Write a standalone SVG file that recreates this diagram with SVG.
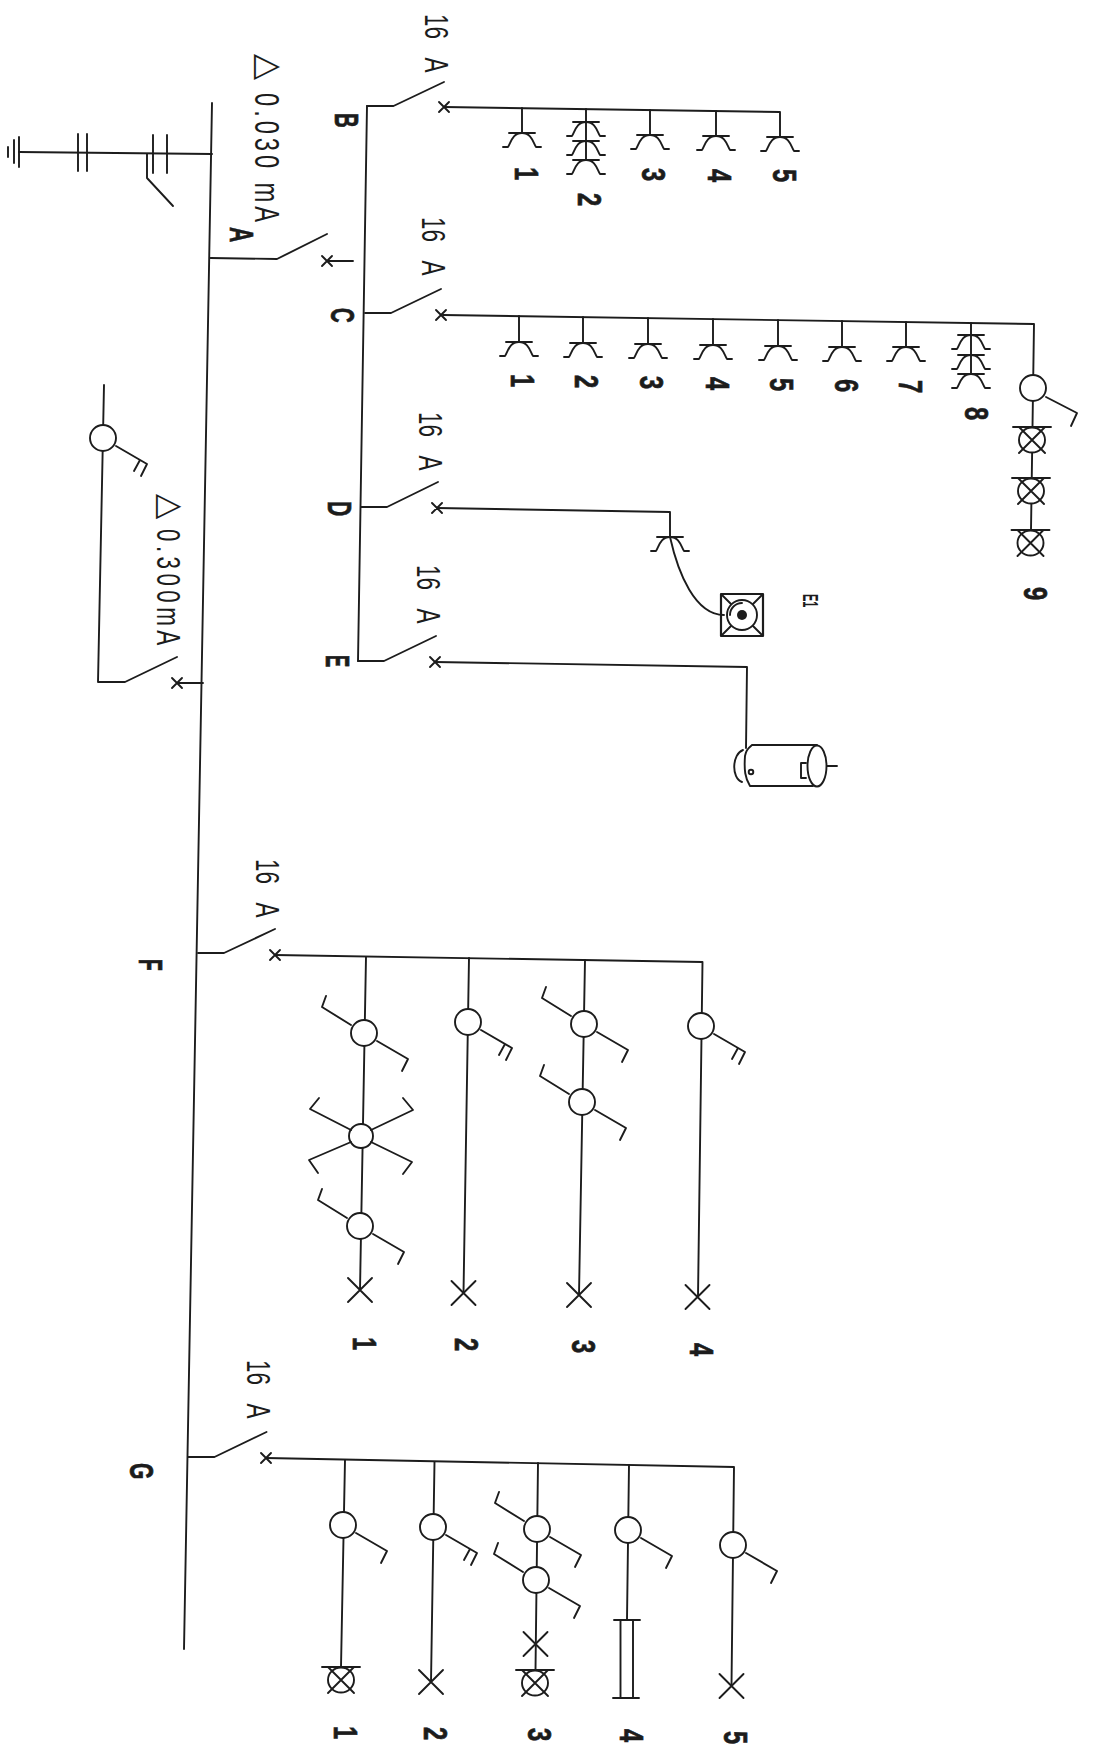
<svg xmlns="http://www.w3.org/2000/svg" xmlns:xlink="http://www.w3.org/1999/xlink" width="1094" height="1746" viewBox="0 0 1094 1746">
<style>
.w{fill:none;stroke:#1c1c1c;stroke-width:1.9;stroke-linecap:round;stroke-linejoin:round}
.c{fill:#fff;stroke:#1c1c1c;stroke-width:1.9}
text{font-family:"Liberation Sans",Arial,sans-serif;fill:#1c1c1c}
.b{font-weight:700;font-size:34px;stroke:#1c1c1c;stroke-width:.7}
.t{font-size:33px}
.a{word-spacing:20px}
</style>
<defs>
<g id="x" class="w"><path d="M-5,-5L5,5M-5,5L5,-5"/></g>
<g id="X" class="w"><path d="M-12,-12L12,12M-12,12L12,-12"/></g>
<g id="sock" class="w"><path d="M-13,0H13M-19,14H-14C-11,10 -10,0 0,0C10,0 11,10 14,14H19"/></g>
<g id="lamp"><ellipse class="c" cx="0" cy="0" rx="13" ry="12.5"/><path class="w" d="M-19,-13H19M-13,13L13,-13M-13,-13L13,13"/></g>
<g id="o"><circle class="c" cx="0" cy="0" r="13"/></g>
<path id="armR" class="w" d="M13,8L44,26L38,38"/>
<path id="armL" class="w" d="M-13,-8L-42,-26L-38,-37"/>
<path id="armE" class="w" d="M13,8L44,26L38,38M37,22L31,33"/>
</defs>
<rect width="1094" height="1746" fill="#fff"/>
<g id="connectors" class="w">
<path d="M212,103L184,1649"/>
<path d="M212,154L19,152"/>
<path d="M210.500,258L277,259L327,234"/>
<path d="M327,261H353"/>
<path d="M367,106L358,661"/>
<path d="M367,106H393.500L444,82"/>
<path d="M444,107L780,112V137"/>
<path d="M522,108V133M586,109V160M650,110V135M716,111V136"/>
<path d="M365,313H391L441,289"/>
<path d="M443,315L1034,324L1031,530"/>
<path d="M519,316V342M583,317V343M648,318V344M713,319V345M778,320V346M842,321V347M906,322V347M971,323V374"/>
<path d="M361,507H387L438,482"/>
<path d="M437,508L670,512V537"/>
<path d="M670,537C678,573 695,615 724,615"/>
<path d="M358,661L384,661L436,636"/>
<path d="M435,662L747,667L746,748"/>
<path d="M203,683H177"/>
<path d="M177,657L125,682H98L104,385"/>
<path d="M198,953H224L275,929"/>
<path d="M275,955L702.500,962L698,1297"/>
<path d="M366,957L360,1290M469,958L463.500,1293M585,960L579,1295"/>
<path d="M188.500,1457H214.500L266.500,1432"/>
<path d="M266,1458L734,1467L731.500,1686"/>
<path d="M345,1460L341,1667M434.500,1462L431,1682M538,1463L535.500,1670M629,1465L627,1620"/>
</g>
<g id="earth" class="w"><path d="M19,137V167M14,140V163M8,147V157M78,134V171M87,134V171M153,135V173M167,135V173M147,154V178L173,206"/></g>
<g id="switch-A"><use xlink:href="#x" x="327" y="261"/><text class="b" transform="translate(230,227) rotate(90) scale(.62,1)">A</text></g>
<g id="rcd-030"><text style="font-family:'DejaVu Sans',sans-serif;font-size:34px" transform="translate(258,54) rotate(90)">△</text><text class="t" style="font-size:35px" textLength="190" transform="translate(255,93) rotate(90) scale(.68,1)">0.030 mA</text></g>
<g id="switch-B"><use xlink:href="#x" x="444" y="107"/><text class="t a" transform="translate(425,14) rotate(90) scale(.68,1)">16 A</text><text class="b" transform="translate(335,113) rotate(90) scale(.6,1)">B</text></g>
<g id="sockets-B">
<use xlink:href="#sock" x="522" y="133"/><use xlink:href="#sock" x="586" y="122"/><use xlink:href="#sock" x="586" y="141"/><use xlink:href="#sock" x="586" y="160"/><use xlink:href="#sock" x="650" y="135"/><use xlink:href="#sock" x="716" y="136"/><use xlink:href="#sock" x="780" y="137"/>
<text class="b" transform="translate(515,167) rotate(90) scale(.7,1)">1</text><text class="b" transform="translate(578,193) rotate(90) scale(.7,1)">2</text><text class="b" transform="translate(642,168) rotate(90) scale(.7,1)">3</text><text class="b" transform="translate(708,169) rotate(90) scale(.7,1)">4</text><text class="b" transform="translate(773,169) rotate(90) scale(.7,1)">5</text>
</g>
<g id="switch-C"><use xlink:href="#x" x="441" y="315"/><text class="t a" transform="translate(422,217) rotate(90) scale(.68,1)">16 A</text><text class="b" transform="translate(331,308) rotate(90) scale(.6,1)">C</text></g>
<g id="sockets-C">
<use xlink:href="#sock" x="519" y="342"/><use xlink:href="#sock" x="583" y="343"/><use xlink:href="#sock" x="648" y="344"/><use xlink:href="#sock" x="713" y="345"/><use xlink:href="#sock" x="778" y="346"/><use xlink:href="#sock" x="842" y="347"/><use xlink:href="#sock" x="906" y="347"/><use xlink:href="#sock" x="971" y="335"/><use xlink:href="#sock" x="971" y="355"/><use xlink:href="#sock" x="971" y="374"/>
<text class="b" transform="translate(511,374) rotate(90) scale(.7,1)">1</text><text class="b" transform="translate(575,375) rotate(90) scale(.7,1)">2</text><text class="b" transform="translate(640,376) rotate(90) scale(.7,1)">3</text><text class="b" transform="translate(706,377) rotate(90) scale(.7,1)">4</text><text class="b" transform="translate(770,378) rotate(90) scale(.7,1)">5</text><text class="b" transform="translate(835,379) rotate(90) scale(.7,1)">6</text><text class="b" transform="translate(899,380) rotate(90) scale(.7,1)">7</text><text class="b" transform="translate(965,407) rotate(90) scale(.7,1)">8</text>
</g>
<g id="lights-C9">
<use xlink:href="#o" x="1033" y="388"/><path class="w" d="M1046,397L1077,413L1071,426"/>
<use xlink:href="#lamp" x="1032" y="440"/><use xlink:href="#lamp" x="1031" y="491"/><use xlink:href="#lamp" x="1030.500" y="543"/>
<text class="b" transform="translate(1024,587) rotate(90) scale(.7,1)">9</text>
</g>
<g id="switch-D"><use xlink:href="#x" x="437" y="508"/><text class="t a" transform="translate(419,412) rotate(90) scale(.68,1)">16 A</text><text class="b" transform="translate(328,501) rotate(90) scale(.62,1)">D</text></g>
<g id="cooker">
<use xlink:href="#sock" x="670" y="537"/>
<rect class="w" x="721" y="594" width="42" height="42" style="stroke-width:2.200"/>
<path class="w" d="M722,595L731,604M762,595L753,604M722,635L731,626M762,635L753,626"/>
<circle class="w" cx="742" cy="615" r="15"/><path class="w" d="M730,615A12,12 0 0 1 742,603"/><circle cx="742" cy="615" r="5" fill="#1c1c1c"/>
<text style="font-size:22px;font-weight:700" transform="translate(803,594) rotate(90) scale(.5,1)">E1</text>
</g>
<g id="switch-E"><use xlink:href="#x" x="435" y="662"/><text class="t a" transform="translate(417,565) rotate(90) scale(.68,1)">16 A</text><text class="b" transform="translate(326,655) rotate(90) scale(.54,1)">E</text></g>
<g id="boiler">
<path class="w" d="M752,745H817M750,786H813M752,745C746,750 746,752 745,756C744,770 745,778 750,786"/>
<ellipse class="w" cx="817" cy="766" rx="9.500" ry="20.500"/>
<path class="w" d="M743,750C732,754 731,778 742,782M827,766H837M806,763H801V778H806"/>
<circle class="w" cx="751" cy="772" r="2.300"/>
</g>
<g id="rcd-300"><use xlink:href="#x" x="177" y="683"/><text style="font-family:'DejaVu Sans',sans-serif;font-size:33px" transform="translate(160,494) rotate(90)">△</text><text class="t" style="font-size:33px" textLength="171" transform="translate(157,529) rotate(90) scale(.68,1)">0.300mA</text><use xlink:href="#o" x="103" y="438"/><use xlink:href="#armE" x="103" y="438"/></g>
<g id="switch-F"><use xlink:href="#x" x="275" y="955"/><text class="t a" transform="translate(256,859) rotate(90) scale(.68,1)">16 A</text><text class="b" transform="translate(139,959) rotate(90) scale(.56,1)">F</text></g>
<g id="circuit-F1">
<use xlink:href="#o" x="364" y="1033"/><use xlink:href="#armR" x="364" y="1033"/><use xlink:href="#armL" x="364" y="1033"/>
<circle class="c" cx="361" cy="1136" r="12"/><path class="w" d="M371,1130L413,1110L403,1098M351,1130L310,1109L319,1098M351,1142L309,1160L318,1173M371,1142L412,1162L403,1174"/>
<use xlink:href="#o" x="360" y="1226"/><use xlink:href="#armR" x="360" y="1226"/><use xlink:href="#armL" x="360" y="1226"/>
<use xlink:href="#X" x="360" y="1290"/>
<text class="b" transform="translate(353,1337) rotate(90) scale(.7,1)">1</text>
</g>
<g id="circuit-F2"><use xlink:href="#o" x="468" y="1022"/><use xlink:href="#armE" x="468" y="1022"/><use xlink:href="#X" x="463.500" y="1293"/><text class="b" transform="translate(455,1338) rotate(90) scale(.7,1)">2</text></g>
<g id="circuit-F3"><use xlink:href="#o" x="584" y="1024"/><use xlink:href="#armR" x="584" y="1024"/><use xlink:href="#armL" x="584" y="1024"/><use xlink:href="#o" x="582" y="1102"/><use xlink:href="#armR" x="582" y="1102"/><use xlink:href="#armL" x="582" y="1102"/><use xlink:href="#X" x="579" y="1295"/><text class="b" transform="translate(572,1340) rotate(90) scale(.7,1)">3</text></g>
<g id="circuit-F4"><use xlink:href="#o" x="701" y="1026"/><use xlink:href="#armE" x="701" y="1026"/><use xlink:href="#X" x="697.500" y="1297"/><text class="b" transform="translate(690,1343) rotate(90) scale(.7,1)">4</text></g>
<g id="switch-G"><use xlink:href="#x" x="266" y="1458"/><text class="t a" transform="translate(247,1360) rotate(90) scale(.68,1)">16 A</text><text class="b" transform="translate(130,1463) rotate(90) scale(.62,1)">G</text></g>
<g id="circuit-G1"><use xlink:href="#o" x="343" y="1525"/><use xlink:href="#armR" x="343" y="1525"/><use xlink:href="#lamp" x="341" y="1680"/><text class="b" transform="translate(334,1726) rotate(90) scale(.7,1)">1</text></g>
<g id="circuit-G2"><use xlink:href="#o" x="433" y="1527"/><use xlink:href="#armE" x="433" y="1527"/><use xlink:href="#X" x="431" y="1682"/><text class="b" transform="translate(424,1727) rotate(90) scale(.7,1)">2</text></g>
<g id="circuit-G3"><use xlink:href="#o" x="537" y="1529"/><use xlink:href="#armR" x="537" y="1529"/><use xlink:href="#armL" x="537" y="1529"/><use xlink:href="#o" x="536" y="1580"/><use xlink:href="#armR" x="536" y="1580"/><use xlink:href="#armL" x="536" y="1580"/><use xlink:href="#X" x="535.500" y="1644"/><use xlink:href="#lamp" x="535" y="1683"/><text class="b" transform="translate(528,1728) rotate(90) scale(.7,1)">3</text></g>
<g id="circuit-G4"><use xlink:href="#o" x="628" y="1530"/><use xlink:href="#armR" x="628" y="1530"/><path class="w" d="M614,1620H640M620.500,1620V1698M633,1620V1698M613,1698H639"/><text class="b" transform="translate(620,1729) rotate(90) scale(.7,1)">4</text></g>
<g id="circuit-G5"><use xlink:href="#o" x="733" y="1545"/><use xlink:href="#armR" x="733" y="1545"/><use xlink:href="#X" x="731.500" y="1686"/><text class="b" transform="translate(724,1731) rotate(90) scale(.7,1)">5</text></g>
</svg>
